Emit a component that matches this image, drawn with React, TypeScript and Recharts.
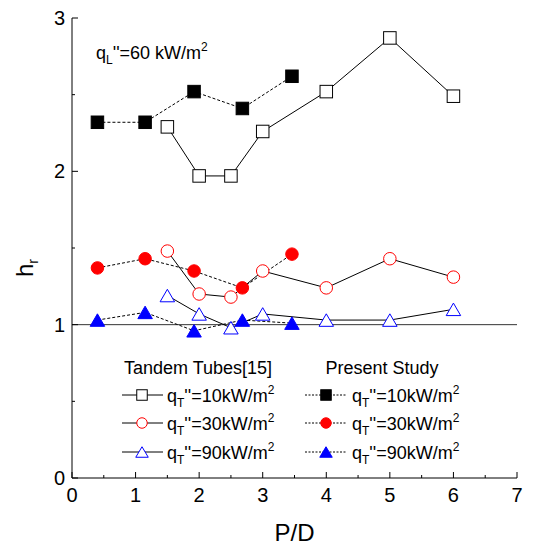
import React from 'react';
import { LineChart, Line, XAxis, YAxis, ReferenceLine, Legend } from 'recharts';

// Tandem Tubes[15]
const tandemX = [1.5, 2.0, 2.5, 3.0, 4.0, 5.0, 6.0];
const tandemY10 = [2.29, 1.97, 1.97, 2.26, 2.52, 2.87, 2.49];
const tandemY30 = [1.48, 1.2, 1.18, 1.35, 1.24, 1.43, 1.31];
const tandemY90 = [1.19, 1.07, 0.98, 1.07, 1.03, 1.03, 1.1];
// Present Study
const presentX = [0.4, 1.15, 1.92, 2.68, 3.46];
const presentY10 = [2.32, 2.32, 2.52, 2.41, 2.62];
const presentY30 = [1.37, 1.43, 1.35, 1.24, 1.46];
const presentY90 = [1.03, 1.08, 0.96, 1.03, 1.01];

const xTicks = [0, 0.5, 1, 1.5, 2, 2.5, 3, 3.5, 4, 4.5, 5, 5.5, 6, 6.5, 7];
const yTicks = [0, 0.5, 1, 1.5, 2, 2.5, 3];
const fluxLabels = ['10', '30', '90'];

const FONT = '"Liberation Sans", Arial, sans-serif';

const toRows = (xs: number[], ys: number[]) => xs.map((x, i) => ({ x, y: ys[i] }));

type Shape = 'square' | 'circle' | 'triangle';

function Marker({ shape, cx, cy, filled, color, size }: { shape: Shape; cx: number; cy: number; filled: boolean; color: string; size: number }) {
  const fill = filled ? color : '#fff';
  if (shape === 'square') {
    return <rect x={cx - size / 2} y={cy - size / 2} width={size} height={size} fill={fill} stroke={color} strokeWidth={1} />;
  }
  if (shape === 'circle') {
    return <circle cx={cx} cy={cy} r={size / 2} fill={fill} stroke={color} strokeWidth={1} />;
  }
  const w = size + 2;
  const h = size;
  return (
    <polygon
      points={`${cx},${cy - h / 2} ${cx + w / 2},${cy + h / 2} ${cx - w / 2},${cy + h / 2}`}
      fill={fill}
      stroke={color}
      strokeWidth={1}
    />
  );
}

const makeDot = (shape: Shape, filled: boolean, color: string) => (p: any) => {
  const { cx, cy, index } = p;
  if (cx == null || cy == null) return <g key={index} />;
  return (
    <g key={index}>
      <Marker shape={shape} cx={cx} cy={cy} filled={filled} color={color} size={12.5} />
    </g>
  );
};

const BottomTick = (p: any) => {
  const v = p.payload.value;
  const major = Number.isInteger(v);
  return (
    <g>
      <line x1={p.x} x2={p.x} y1={p.y} y2={p.y - (major ? 6 : 3)} stroke="#000" />
      {major && (
        <text x={p.x} y={p.y + 23.5} textAnchor="middle" fontSize={20} fontFamily={FONT} fill="#000">
          {v}
        </text>
      )}
    </g>
  );
};

const TopTick = (p: any) => {
  const v = p.payload.value;
  const major = Number.isInteger(v);
  return <line x1={p.x} x2={p.x} y1={p.y} y2={p.y + (major ? 6 : 3)} stroke="#000" />;
};

const LeftTick = (p: any) => {
  const v = p.payload.value;
  const major = Number.isInteger(v);
  return (
    <g>
      <line x1={p.x} x2={p.x + (major ? 6 : 3)} y1={p.y} y2={p.y} stroke="#000" />
      {major && (
        <text x={p.x - 7} y={p.y + 7} textAnchor="end" fontSize={20} fontFamily={FONT} fill="#000">
          {v}
        </text>
      )}
    </g>
  );
};

const RightTick = (p: any) => {
  const v = p.payload.value;
  const major = Number.isInteger(v);
  return <line x1={p.x} x2={p.x - (major ? 6 : 3)} y1={p.y} y2={p.y} stroke="#000" />;
};

function FluxText({ x, y, value }: { x: number; y: number; value: string }) {
  return (
    <text x={x} y={y} fontSize={18} fontFamily={FONT} fill="#000">
      <tspan>q</tspan>
      <tspan dy={5} fontSize={12}>T</tspan>
      <tspan dy={-5}>{`''=${value}kW/m`}</tspan>
      <tspan dy={-8} fontSize={12}>2</tspan>
    </text>
  );
}

const shapes: Shape[] = ['square', 'circle', 'triangle'];
const colors = ['#000', '#ff0000', '#0000ff'];

const LegendOverlay = () => {
  const rowY = [395, 423, 452];
  return (
    <svg width={540} height={548} style={{ position: 'absolute', left: 0, top: 0, pointerEvents: 'none' }}>
      <text x={96} y={59} fontSize={18} fontFamily={FONT} fill="#000">
        <tspan>q</tspan>
        <tspan dy={5} fontSize={12}>L</tspan>
        <tspan dy={-5}>''=60 kW/m</tspan>
        <tspan dy={-8} fontSize={12}>2</tspan>
      </text>
      <text x={198} y={374} textAnchor="middle" fontSize={18} fontFamily={FONT} fill="#000">
        Tandem Tubes[15]
      </text>
      <text x={382} y={374} textAnchor="middle" fontSize={18} fontFamily={FONT} fill="#000">
        Present Study
      </text>
      {rowY.map((ry, i) => (
        <g key={i}>
          <line x1={122} x2={163} y1={ry} y2={ry} stroke="#000" strokeWidth={1} />
          <Marker shape={shapes[i]} cx={142} cy={ry} filled={false} color={colors[i]} size={10.5} />
          <FluxText x={167} y={ry + 7} value={fluxLabels[i]} />
          <line x1={305} x2={347} y1={ry} y2={ry} stroke="#000" strokeWidth={1} strokeDasharray="2 1.5" />
          <Marker shape={shapes[i]} cx={326} cy={ry} filled={true} color={colors[i]} size={10.5} />
          <FluxText x={352} y={ry + 7} value={fluxLabels[i]} />
        </g>
      ))}
    </svg>
  );
};

export default function App() {
  const series = [
    { key: 't10', data: toRows(tandemX, tandemY10), shape: 'square' as Shape, filled: false, color: '#000', dash: undefined },
    { key: 't30', data: toRows(tandemX, tandemY30), shape: 'circle' as Shape, filled: false, color: '#ff0000', dash: undefined },
    { key: 't90', data: toRows(tandemX, tandemY90), shape: 'triangle' as Shape, filled: false, color: '#0000ff', dash: undefined },
    { key: 'p10', data: toRows(presentX, presentY10), shape: 'square' as Shape, filled: true, color: '#000', dash: '3 2' },
    { key: 'p30', data: toRows(presentX, presentY30), shape: 'circle' as Shape, filled: true, color: '#ff0000', dash: '3 2' },
    { key: 'p90', data: toRows(presentX, presentY90), shape: 'triangle' as Shape, filled: true, color: '#0000ff', dash: '3 2' },
  ];
  return (
    <div style={{ position: 'absolute', left: 0, top: 0, width: 540, height: 548, background: '#fff' }}>
      <LineChart width={540} height={548} margin={{ top: 18, right: 23, bottom: 0, left: 0 }}>
        <XAxis
          xAxisId="b"
          dataKey="x"
          type="number"
          domain={[0, 7]}
          ticks={xTicks}
          interval={0}
          allowDataOverflow
          height={70}
          tickSize={0}
          tickMargin={0}
          tickLine={false}
          axisLine={{ stroke: '#000' }}
          tick={BottomTick}
          label={{
            content: (p: any) => {
              const vb = p.viewBox;
              return (
                <text x={vb.x + vb.width / 2} y={vb.y + 63} textAnchor="middle" fontSize={24} fontFamily={FONT} fill="#000">
                  P/D
                </text>
              );
            },
          }}
        />
        <XAxis
          xAxisId="t"
          orientation="top"
          type="number"
          domain={[0, 7]}
          ticks={xTicks}
          interval={0}
          allowDataOverflow
          height={0}
          tickSize={0}
          tickMargin={0}
          tickLine={false}
          axisLine={{ stroke: '#000' }}
          tick={TopTick}
        />
        <YAxis
          yAxisId="l"
          type="number"
          domain={[0, 3]}
          ticks={yTicks}
          interval={0}
          allowDataOverflow
          width={72}
          tickSize={0}
          tickMargin={0}
          tickLine={false}
          axisLine={{ stroke: '#000' }}
          tick={LeftTick}
          label={{
            content: (p: any) => {
              const vb = p.viewBox;
              const cx = 33;
              const cy = vb.y + vb.height / 2 + 20;
              return (
                <text x={cx} y={cy} transform={`rotate(-90, ${cx}, ${cy})`} textAnchor="middle" fontSize={24} fontFamily={FONT} fill="#000">
                  <tspan>h</tspan>
                  <tspan dy={5} fontSize={14}>r</tspan>
                </text>
              );
            },
          }}
        />
        <YAxis
          yAxisId="r"
          orientation="right"
          type="number"
          domain={[0, 3]}
          ticks={yTicks}
          interval={0}
          allowDataOverflow
          width={0}
          tickSize={0}
          tickMargin={0}
          tickLine={false}
          axisLine={{ stroke: '#000' }}
          tick={RightTick}
        />
        <ReferenceLine xAxisId="b" yAxisId="l" y={1} stroke="#333" strokeWidth={1} />
        {series.map((s) => (
          <Line
            key={s.key}
            xAxisId="b"
            yAxisId="l"
            data={s.data}
            dataKey="y"
            type="linear"
            stroke="#000"
            strokeWidth={1}
            strokeDasharray={s.dash}
            dot={makeDot(s.shape, s.filled, s.color)}
            activeDot={false}
            isAnimationActive={false}
          />
        ))}
        <Legend layout="horizontal" verticalAlign="middle" align="center" wrapperStyle={{ position: 'absolute', left: 0, top: 0, width: 540, height: 548 }} content={() => <LegendOverlay />} />
      </LineChart>
    </div>
  );
}
